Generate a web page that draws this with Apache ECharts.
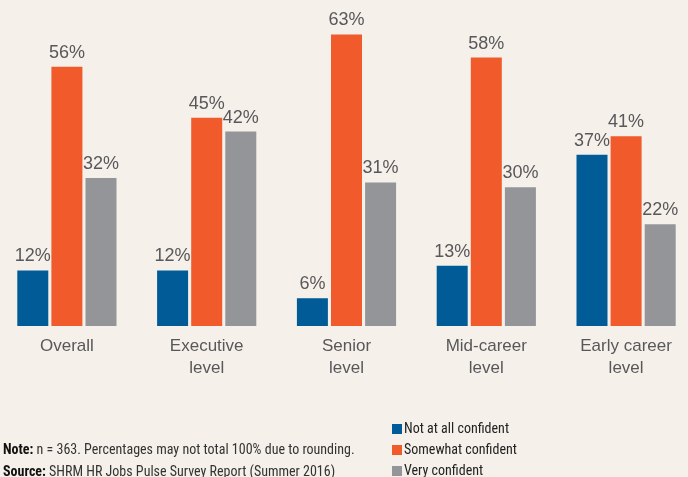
<!DOCTYPE html>
<html><head><meta charset="utf-8">
<script src="https://cdn.jsdelivr.net/npm/echarts@6/dist/echarts.min.js"></script>
<style>html,body{margin:0;padding:0;background:#f5f0ea}#c{width:688px;height:477px}</style>
</head><body><div id="c"></div>
<script>
const categories = ['Overall', 'Executive\nlevel', 'Senior\nlevel', 'Mid-career\nlevel', 'Early career\nlevel'];
const seriesNames = ['Not at all confident', 'Somewhat confident', 'Very confident'];
const notAtAll = [12, 12, 6, 13, 37];
const somewhat = [56, 45, 63, 58, 41];
const very = [32, 42, 31, 30, 22];
const colors = ['#005b96', '#f15a2b', '#939598'];

const SANS = "'Liberation Sans', Arial, sans-serif";
const NARROW = "'Roboto Condensed', 'Liberation Sans', sans-serif";
const chart = echarts.init(document.getElementById('c'));
const lbl = {show: true, position: 'top', distance: 5, formatter: '{c}%', color: '#58585a', fontSize: 18, fontFamily: SANS};
const mk = (name, data, i) => ({
  name, type: 'bar', data, barWidth: 31, barGap: '10%', barCategoryGap: '28%',
  itemStyle: {color: colors[i]}, label: lbl
});
chart.setOption({
  backgroundColor: '#f5f0ea',
  animation: false,
  grid: {left: -3, right: -8, top: 2, bottom: 151, containLabel: false, outerBoundsMode: 'none'},
  xAxis: {type: 'category', data: categories,
    axisLine: {show: false}, axisTick: {show: false},
    axisLabel: {color: '#58585a', fontSize: 17, lineHeight: 22, margin: 9, interval: 0, fontFamily: SANS}},
  yAxis: {type: 'value', min: 0, max: 70, show: false, splitLine: {show: false}},
  legend: {orient: 'vertical', left: 392, top: 421, height: 100, padding: 0, itemWidth: 10, itemHeight: 10, itemGap: 5,
    icon: 'rect', data: seriesNames,
    textStyle: {color: '#222', fontSize: 14, lineHeight: 16, fontFamily: NARROW, padding: [0,0,0,-3]}},
  title: {left: 3, top: 440, padding: 0, itemGap: 0,
    text: '{b|Note:} n = 363. Percentages may not total 100% due to rounding.\n{b|Source:} SHRM HR Jobs Pulse Survey Report (Summer 2016)',
    textStyle: {color: '#333', fontSize: 14, fontWeight: 'normal', lineHeight: 21.5, fontFamily: NARROW,
      rich: {b: {fontWeight: 'bold', fontSize: 14, color: '#111', fontFamily: NARROW}}}},
  series: [mk(seriesNames[0], notAtAll, 0), mk(seriesNames[1], somewhat, 1), mk(seriesNames[2], very, 2)]
});
</script></body></html>
